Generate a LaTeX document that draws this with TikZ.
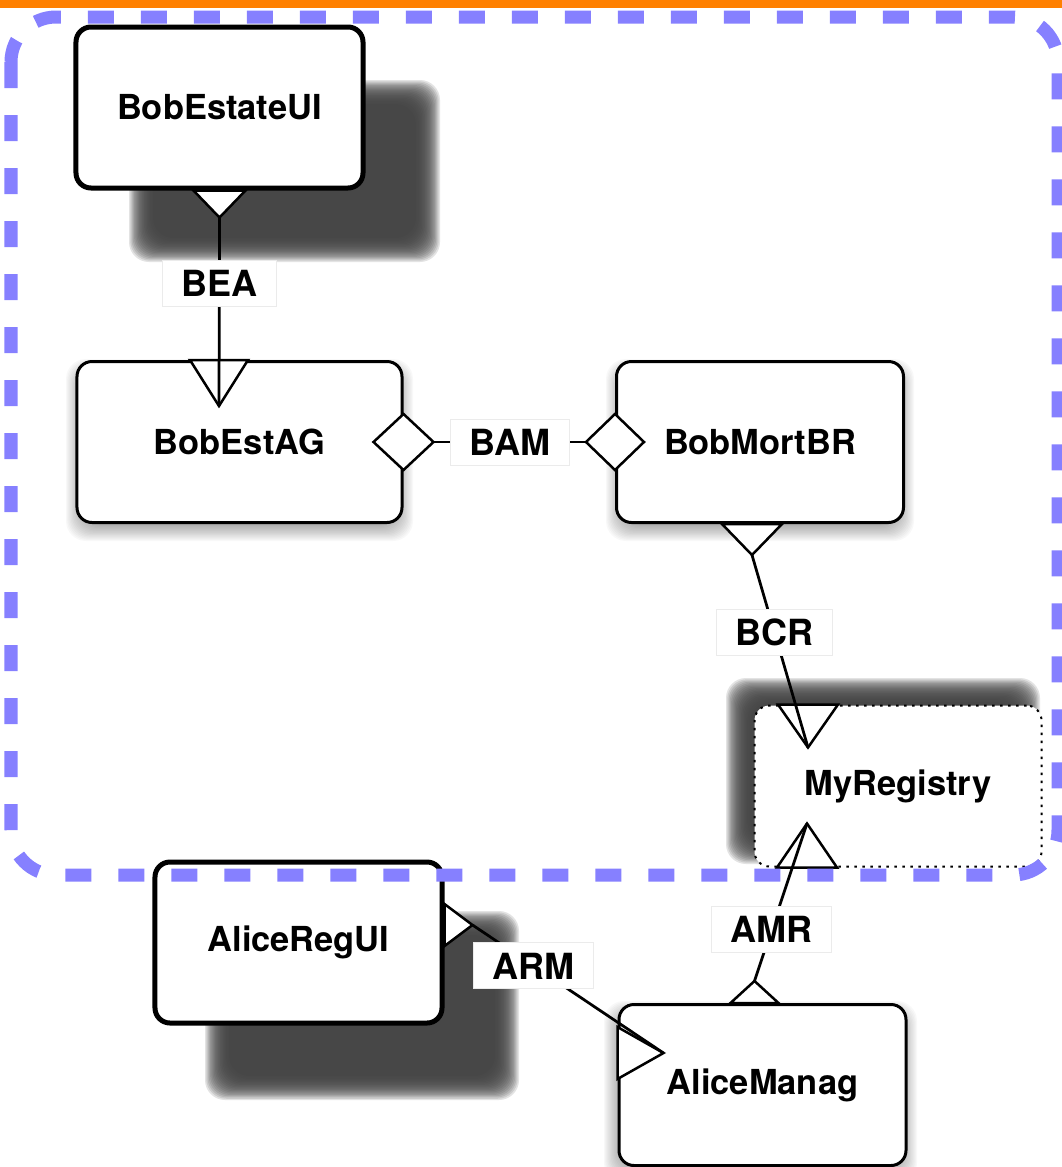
\documentclass[tikz,border=0pt]{standalone}
\usepackage{fontspec}
\setmainfont{TeX Gyre Heros}
\definecolor{barorange}{RGB}{255,128,0}
\definecolor{frameblue}{RGB}{134,128,255}
\definecolor{shadowgray}{RGB}{64,64,64}
\tikzset{font=\bfseries\fontsize{19.6}{23}\selectfont}

% soft shadow: stacked rounded rectangles, corners in px, blur, opacity per layer
\newcommand{\blurshadow}[6]{%
  \foreach \k in {0,...,19}{
    \pgfmathsetmacro{\off}{#5*(1-\k/9.5)}
    \fill[shadowgray, fill opacity=#6, rounded corners=4mm]
      ({#1-(\off)},{#2-(\off)}) rectangle ({#3+(\off)},{#4+(\off)});
  }}

\begin{document}
\begin{tikzpicture}[x=0.2mm,y=-0.2mm,
  comp/.style={draw, fill=white, rounded corners=3mm, minimum width=57.4mm,
    minimum height=32.2mm, line width=0.6mm},
  ui/.style={comp, line width=1mm},
  regbox/.style={comp, line width=0.4mm, dash pattern=on 0.5mm off 1.1mm},
  tri/.style={draw, fill=white, line width=0.5mm, line join=miter},
  conn/.style={line width=0.55mm},
  lbl/.style={fill=white, draw=black!8, line width=0.2mm, inner xsep=3.8mm,
    minimum height=9.2mm, font=\bfseries\fontsize{20.5}{23}\selectfont},
  frame/.style={draw=frameblue, line width=2.6mm, dash pattern=on 5.2mm off 5.4mm,
    rounded corners=9mm}]
  \useasboundingbox (0,0) rectangle (1062,1167);
  \fill[barorange] (0,0) rectangle (1062,7.5);

  % shadows
  \blurshadow{141}{92}{428}{250}{12}{0.15}
  \blurshadow{217}{923}{507}{1088}{12}{0.15}
  \blurshadow{738}{690}{1028}{852}{12}{0.15}
  \blurshadow{77}{370}{402}{530}{11}{0.035}
  \blurshadow{617}{370}{903}{530}{11}{0.035}
  \blurshadow{615}{1012}{906}{1172}{11}{0.035}

  % components
  \node[ui] (bui) at (219.5,107.5) {BobEstateUI};
  \node[comp, minimum width=65mm] (bag) at (239.5,442) {BobEstAG};
  \node[comp] (bmb) at (760,442) {BobMortBR};
  \node[regbox] (reg) at (898,786) {MyRegistry};
  \node[ui] (aui) at (298.5,942.5) {AliceRegUI};
  \node[comp] (amg) at (762.5,1085) {AliceManag};

  % ports
  \draw[tri] (bui.south) ++(-26,0) -- ++(26,27) coordinate (bui-p) -- ++(26,-27) -- cycle;
  \draw[tri] (bag.north) ++(-49.5,0) -- ++(29,46) coordinate (bag-p) -- ++(29,-46) -- cycle;
  \draw[tri] (bag.east) ++(-30,0) -- ++(30,-28) -- ++(30,28) coordinate (bag-d) -- ++(-30,28) -- cycle;
  \draw[tri] (bmb.west) ++(29,0) -- ++(-29,-28) -- ++(-29,28) coordinate (bmb-d) -- ++(29,28) -- cycle;
  \draw[tri] (bmb.south) ++(-38,0) -- ++(30,31) coordinate (bmb-p) -- ++(30,-31) -- cycle;
  \draw[tri] (reg.north) ++(-120,0) -- ++(30,43) coordinate (reg-p) -- ++(30,-43) -- cycle;
  \draw[tri] (reg.south) ++(-121,0) -- ++(30,-44) coordinate (reg-q) -- ++(30,44) -- cycle;
  \draw[tri] (amg.north) ++(-32,0) -- ++(24,-22) coordinate (amg-p) -- ++(24,22) -- cycle;
  \draw[tri] (amg.west) ++(0,-58) -- ++(46,26) coordinate (amg-q) -- ++(-46,26) -- cycle;
  \draw[tri] (aui.east) ++(0,-38.5) -- ++(28,21) coordinate (aui-p) -- ++(-28,21) -- cycle;

  % connectors
  \draw[conn] (bui-p) -- node[lbl, pos=.35] {BEA} (bag-p);
  \draw[conn] (bag-d) -- node[lbl] {BAM} (bmb-d);
  \draw[conn] (bmb-p) -- node[lbl, pos=.4] {BCR} (reg-p);
  \draw[conn] (amg-p) -- node[lbl, pos=.33] {AMR} (reg-q);
  \draw[conn] (aui-p) -- node[lbl, pos=.32] {ARM} (amg-q);

  % boundary
  \draw[frame] (11,17) rectangle (1058,875);
\end{tikzpicture}
\end{document}
